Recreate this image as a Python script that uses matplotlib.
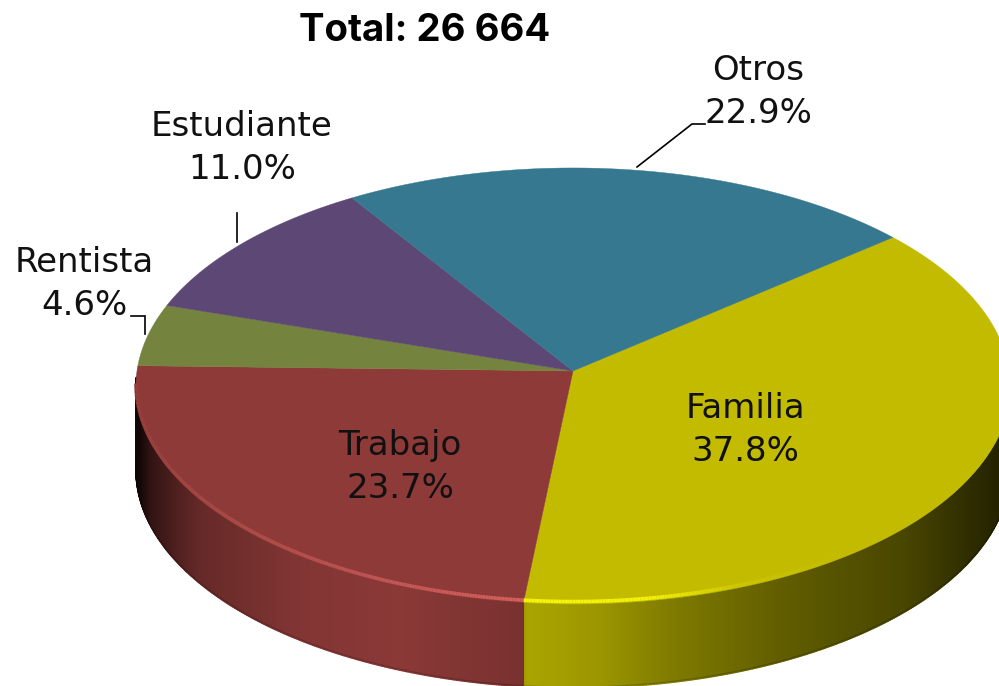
import numpy as np
import matplotlib
matplotlib.use("Agg")
import matplotlib.pyplot as plt
from matplotlib.collections import LineCollection, PolyCollection

categories = ["Familia", "Trabajo", "Rentista", "Estudiante", "Otros"]
values = [37.8, 23.7, 4.6, 11.0, 22.9]
colors = ["#c2bb00", "#8d3a38", "#74843e", "#5d4775", "#36788f"]
title = "Total: 26 664"

plt.rcParams["font.family"] = ["DejaVu Sans"]
W, H = 999, 686
fig = plt.figure(figsize=(W / 100, H / 100), dpi=100)
ax = fig.add_axes([0, 0, 1, 1])
ax.set_xlim(0, W)
ax.set_ylim(H, 0)
ax.axis("off")

# tilted disc: a unit circle seen in perspective
APEX_X, APEX_Y, RX, RY, K, DEPTH = 573, 371, 436, 217, 0.0688, 84
START = 40.0


def project(deg):
    t = np.radians(deg)
    w = 1 + K * np.sin(t)
    return APEX_X + RX * np.cos(t) / w, APEX_Y - RY * np.sin(t) / w


def shade(x):
    return np.interp(x,
                     [134, 140, 150, 175, 200, 300, 400, 524, 526, 600, 670, 780, 900, 1000],
                     [.08, .16, .35, .55, .72, .92, .98, .85, .88, .80, .66, .50, .38, .18])


def rim_mix(x):
    return np.interp(x, [134, 200, 300, 450, 525, 650, 740, 850], [.1, .3, .5, .75, .85, .8, .15, 0])


rgb = [np.array(matplotlib.colors.to_rgb(c)) for c in colors]
angle = START
for name, v, base, c in zip(categories, values, rgb, colors):
    sweep = v / sum(values) * 360
    th = np.linspace(angle, angle - sweep, max(int(sweep * 3), 8))
    x, y = project(th)

    # side wall, only where the rim faces the viewer
    keep = [i for i in range(len(x) - 1) if y[i] > 376 and y[i + 1] > 376]
    if keep:
        quads = [[(x[i], y[i]), (x[i + 1], y[i + 1]), (x[i + 1], y[i + 1] + DEPTH), (x[i], y[i] + DEPTH)]
                 for i in keep]
        xm = np.array([(x[i] + x[i + 1]) / 2 for i in keep])
        fc = [tuple(base * shade(m)) for m in xm]
        ax.add_collection(PolyCollection(quads, facecolors=fc, edgecolors=fc, linewidths=1.0, zorder=1))
        # soft dark lower edge of the wall
        segs = [[(x[i], y[i] + DEPTH - 1), (x[i + 1], y[i + 1] + DEPTH - 1)] for i in keep]
        ax.add_collection(LineCollection(segs, colors=[tuple(base * shade(m) * .8) for m in xm],
                                         linewidths=0.8, zorder=1.5))

    # top face
    ax.fill(np.r_[APEX_X, x], np.r_[APEX_Y, y], color=c, lw=0.3, zorder=2)

    # highlight on the front rim
    front = y > 385
    if front.sum() > 2:
        fx, fy = x[front], y[front] - 2.5
        rsegs = [[(fx[i], fy[i]), (fx[i + 1], fy[i + 1])] for i in range(len(fx) - 1)]
        mix = rim_mix((fx[:-1] + fx[1:]) / 2)
        light = np.clip(base * 1.55 + np.array([.02, .05, .05]), 0, 1)
        rc = [tuple(base + m * (light - base)) for m in mix]
        ax.add_collection(LineCollection(rsegs, colors=rc, linewidths=2.6, zorder=3, capstyle="butt"))
    angle -= sweep

# leader lines
for lx, ly in [([637, 692, 705], [167, 124, 124]),
               ([237, 237], [213, 242]),
               ([131, 145, 145], [316, 316, 334])]:
    ax.plot(lx, ly, color="black", lw=1.2, zorder=4, solid_joinstyle="miter")

# labels
label_pos = {"Familia": (745, 430), "Trabajo": (400, 467), "Rentista": (84, 284),
             "Estudiante": (242, 148), "Otros": (758, 92)}
for name, v in zip(categories, values):
    px, py = label_pos[name]
    ax.text(px, py, f"{name}\n{v:.1f}%", ha="center", va="center", ma="center",
            fontsize=24.5, linespacing=1.36, color="#111111", zorder=5)

ax.text(425, 31, title, ha="center", va="center", fontsize=27.6, fontweight="bold",
        family="Inter", color="black")

fig.savefig("out.png", dpi=100)
